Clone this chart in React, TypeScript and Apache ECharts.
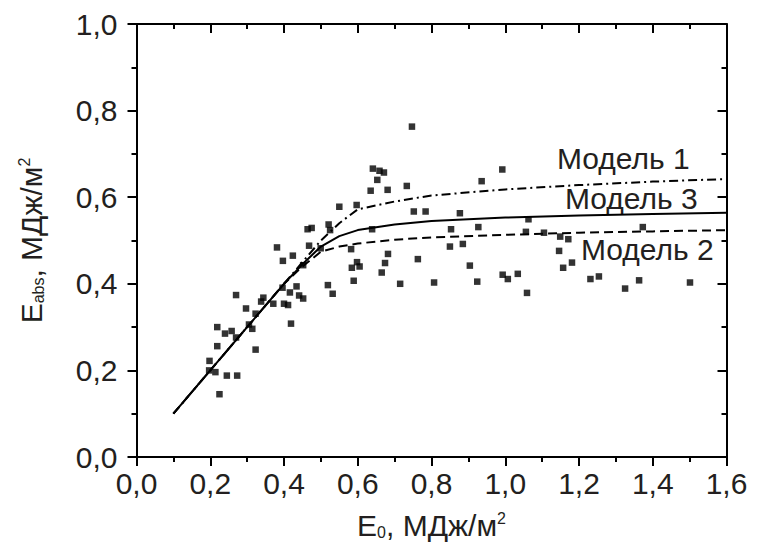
import React, { useEffect, useRef } from "react";
import * as echarts from "echarts";

// Measured points [E0, Eabs]
const measuredX = [
  0.747, 0.641, 0.659, 0.671, 0.653, 0.635, 0.681, 0.733, 0.55, 0.597, 0.752, 0.784,
  0.464, 0.475, 0.521, 0.525, 0.639, 0.381, 0.468, 0.4995, 0.582, 0.397, 0.424, 0.452,
  0.682, 0.584, 0.598, 0.605, 0.674, 0.763, 0.665, 0.589, 0.715, 0.519, 0.532, 0.27,
  0.344, 0.396, 0.434, 0.416, 0.441, 0.452,
  0.338, 0.371, 0.4, 0.411, 0.297, 0.323, 0.419, 0.219, 0.258, 0.24, 0.305, 0.314,
  0.27, 0.219, 0.323, 0.198, 0.197, 0.214, 0.245, 0.273, 0.225,
  0.992, 0.936, 0.877, 0.853, 0.927, 1.063, 1.056, 1.105, 1.149, 1.171, 1.373, 0.85,
  0.885, 1.146, 0.904, 1.157, 1.181, 0.807, 0.924, 0.993, 1.007, 1.034, 1.059, 1.231,
  1.254, 1.325, 1.363, 1.501,
];
const measuredY = [
  0.763, 0.666, 0.661, 0.657, 0.64, 0.615, 0.617, 0.626, 0.578, 0.582, 0.567, 0.567,
  0.526, 0.529, 0.537, 0.524, 0.526, 0.484, 0.488, 0.482, 0.48, 0.453, 0.465, 0.443,
  0.469, 0.437, 0.45, 0.44, 0.448, 0.457, 0.426, 0.407, 0.4, 0.397, 0.377, 0.374,
  0.368, 0.391, 0.394, 0.38, 0.373, 0.366,
  0.359, 0.354, 0.354, 0.351, 0.343, 0.331, 0.308, 0.3, 0.291, 0.285, 0.306, 0.296,
  0.276, 0.256, 0.248, 0.222, 0.2, 0.196, 0.188, 0.188, 0.145,
  0.664, 0.637, 0.563, 0.526, 0.531, 0.549, 0.52, 0.518, 0.509, 0.503, 0.531, 0.486,
  0.492, 0.476, 0.442, 0.437, 0.449, 0.403, 0.405, 0.421, 0.411, 0.423, 0.379, 0.411,
  0.417, 0.389, 0.408, 0.403,
];

// Model curves
const model1X = [0.1, 0.2, 0.3, 0.4, 0.45, 0.5, 0.55, 0.6, 0.7, 0.8, 1.0, 1.2, 1.4, 1.6];
const model1Y = [0.1, 0.2, 0.3, 0.4, 0.45, 0.5, 0.54, 0.572, 0.59, 0.604, 0.618, 0.628, 0.636, 0.642];
const model2X = [0.1, 0.2, 0.3, 0.4, 0.45, 0.5, 0.55, 0.6, 0.7, 0.8, 1.0, 1.2, 1.4, 1.6];
const model2Y = [0.1, 0.2, 0.3, 0.4, 0.44, 0.474, 0.486, 0.493, 0.502, 0.507, 0.513, 0.518, 0.521, 0.524];
const model3X = [0.1, 0.2, 0.3, 0.4, 0.45, 0.5, 0.55, 0.6, 0.7, 0.8, 1.0, 1.2, 1.4, 1.6];
const model3Y = [0.1, 0.2, 0.3, 0.4, 0.445, 0.486, 0.51, 0.524, 0.537, 0.545, 0.553, 0.558, 0.561, 0.564];

const modelNames = ["Модель 1", "Модель 3", "Модель 2"];

const FONT = "'Liberation Sans', Arial, sans-serif";
const INK = "#231f20";
const FS = 30;

const zip = (xs: number[], ys: number[]) => xs.map((x, i) => [x, ys[i]]);
const fmt = (v: number) => v.toFixed(1).replace(".", ",");

export default function App() {
  const ref = useRef<HTMLDivElement>(null);
  useEffect(() => {
    if (!ref.current) return;
    const chart = echarts.init(ref.current, undefined, { renderer: "svg" });
    const rich = {
      n: { fontSize: FS, fontFamily: FONT, color: INK, lineHeight: FS },
      sub: { fontSize: 16, fontFamily: FONT, color: INK, lineHeight: 16, verticalAlign: "bottom" },
      sup: { fontSize: 16, fontFamily: FONT, color: INK, lineHeight: 16, verticalAlign: "top" },
    };
    const axisLine = { show: true, onZero: false, lineStyle: { color: "#000", width: 2 } };
    const minorTick = { show: true, splitNumber: 2, length: 5, lineStyle: { color: "#000", width: 2 } };
    const baseX = {
      type: "value",
      min: 0,
      max: 1.6,
      interval: 0.2,
      axisLine,
      splitLine: { show: false },
      minorTick,
    };
    const baseY = {
      type: "value",
      min: 0,
      max: 1.0,
      interval: 0.2,
      axisLine,
      splitLine: { show: false },
      minorTick,
    };
    chart.setOption({
      animation: false,
      backgroundColor: "#fff",
      grid: { left: 136.5, right: 30.5, top: 24, bottom: 96, containLabel: false },
      xAxis: [
        {
          ...baseX,
          position: "bottom",
          axisTick: { show: true, inside: false, length: 9, lineStyle: { color: "#000", width: 2 } },
          axisLabel: { show: true, formatter: fmt, fontSize: FS, fontFamily: FONT, color: INK, margin: 11 },
          name: "{n|E}{sub|0}{n|, МДж/м}{sup|2}",
          nameLocation: "middle",
          nameGap: 53,
          nameTextStyle: { rich },
        },
        {
          ...baseX,
          position: "top",
          axisTick: { show: true, inside: true, length: 9, lineStyle: { color: "#000", width: 2 } },
          axisLabel: { show: false },
        },
      ],
      yAxis: [
        {
          ...baseY,
          position: "left",
          axisTick: { show: true, inside: false, length: 9, lineStyle: { color: "#000", width: 2 } },
          axisLabel: { show: true, formatter: fmt, fontSize: FS, fontFamily: FONT, color: INK, margin: 19 },
          name: "{n|E}{sub|abs}{n|, МДж/м}{sup|2}",
          nameLocation: "middle",
          nameRotate: 90,
          nameGap: 90,
          nameTextStyle: { rich },
        },
        {
          ...baseY,
          position: "right",
          axisTick: { show: true, inside: true, length: 9, lineStyle: { color: "#000", width: 2 } },
          axisLabel: { show: false },
        },
      ],
      series: [
        {
          type: "scatter",
          data: zip(measuredX, measuredY),
          symbol: "rect",
          symbolSize: 6.5,
          itemStyle: { color: "#000" },
          z: 3,
        },
        {
          type: "line",
          name: modelNames[0],
          data: zip(model1X, model1Y),
          showSymbol: false,
          lineStyle: { color: "#000", width: 2, type: [9, 4, 2, 4] },
          z: 2,
        },
        {
          type: "line",
          name: modelNames[2],
          data: zip(model2X, model2Y),
          showSymbol: false,
          lineStyle: { color: "#000", width: 2, type: [9, 5] },
          z: 2,
        },
        {
          type: "line",
          name: modelNames[1],
          data: zip(model3X, model3Y),
          showSymbol: false,
          lineStyle: { color: "#000", width: 2, type: "solid" },
          z: 2,
        },
      ],
      graphic: [
        { type: "text", left: 557, top: 143, style: { text: modelNames[0], fontSize: FS, fontFamily: FONT, fill: INK } },
        { type: "text", left: 565, top: 183, style: { text: modelNames[1], fontSize: FS, fontFamily: FONT, fill: INK } },
        { type: "text", left: 581, top: 234, style: { text: modelNames[2], fontSize: FS, fontFamily: FONT, fill: INK } },
      ],
    });
    return () => chart.dispose();
  }, []);
  return (
    <div
      ref={ref}
      style={{ position: "fixed", left: 0, top: 0, width: 757, height: 553, background: "#fff" }}
    />
  );
}
